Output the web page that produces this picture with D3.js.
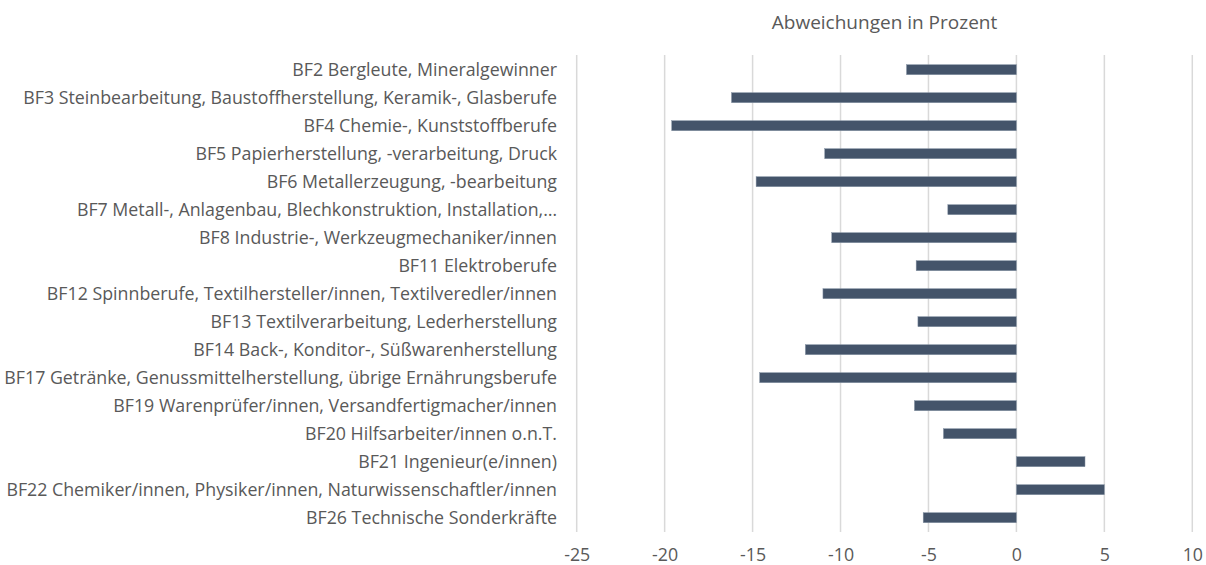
<!DOCTYPE html>
<html>
<head>
<meta charset="utf-8">
<script src="https://cdn.jsdelivr.net/npm/d3@7"></script>
<style>
  body { margin: 0; background: #fff; }
  text { font-family: "Open Sans", sans-serif; }
</style>
</head>
<body>
<div id="chart"></div>
<script>
// Berufsfelder (categories), top to bottom
const categories = [
  'BF2 Bergleute, Mineralgewinner',
  'BF3 Steinbearbeitung, Baustoffherstellung, Keramik-, Glasberufe',
  'BF4 Chemie-, Kunststoffberufe',
  'BF5 Papierherstellung, -verarbeitung, Druck',
  'BF6 Metallerzeugung, -bearbeitung',
  'BF7 Metall-, Anlagenbau, Blechkonstruktion, Installation,…',
  'BF8 Industrie-, Werkzeugmechaniker/innen',
  'BF11 Elektroberufe',
  'BF12 Spinnberufe, Textilhersteller/innen, Textilveredler/innen',
  'BF13 Textilverarbeitung, Lederherstellung',
  'BF14 Back-, Konditor-, Süßwarenherstellung',
  'BF17 Getränke, Genussmittelherstellung, übrige Ernährungsberufe',
  'BF19 Warenprüfer/innen, Versandfertigmacher/innen',
  'BF20 Hilfsarbeiter/innen o.n.T.',
  'BF21 Ingenieur(e/innen)',
  'BF22 Chemiker/innen, Physiker/innen, Naturwissenschaftler/innen',
  'BF26 Technische Sonderkräfte'
];

// Abweichungen in Prozent
const values = [-6.25, -16.2, -19.6, -10.9, -14.8, -3.9, -10.5, -5.7, -11.0,
  -5.6, -12.0, -14.6, -5.8, -4.15, 3.9, 5.0, -5.3];

const xTicks = [-25, -20, -15, -10, -5, 0, 5, 10];
const axisTitle = 'Abweichungen in Prozent';

const W = 1206, H = 565;
const svg = d3.select('#chart').append('svg')
  .attr('width', W)
  .attr('height', H);

// Scales
const x = d3.scaleLinear()
  .domain([-25, 10])
  .range([576.7, 1192.3]);

const y = d3.scaleBand()
  .domain(categories)
  .range([55.7, 531.7])
  .paddingInner(0.64)
  .paddingOuter(0.32);

// Grid
svg.append('g')
  .selectAll('line')
  .data(xTicks)
  .join('line')
  .attr('x1', d => x(d))
  .attr('x2', d => x(d))
  .attr('y1', 55)
  .attr('y2', 532)
  .attr('stroke', '#d9d9d9')
  .attr('stroke-width', 1.5);

// Bars
svg.append('g')
  .selectAll('rect')
  .data(values)
  .join('rect')
  .attr('x', d => x(Math.min(0, d)))
  .attr('y', (d, i) => y(categories[i]))
  .attr('width', d => Math.abs(x(d) - x(0)))
  .attr('height', y.bandwidth())
  .attr('fill', '#44546a')
  .attr('stroke', '#8a97a8')
  .attr('stroke-width', 0.5);

// Category labels
svg.append('g')
  .selectAll('text')
  .data(categories)
  .join('text')
  .attr('x', 557)
  .attr('y', d => y(d) + y.bandwidth() / 2)
  .attr('dy', '0.35em')
  .attr('text-anchor', 'end')
  .attr('font-size', 17.8)
  .attr('fill', '#595959')
  .text(d => d);

// X axis labels
const xAxis = svg.append('g')
  .attr('transform', 'translate(0,548)')
  .call(d3.axisBottom(x).tickValues(xTicks).tickSize(0).tickPadding(0)
    .tickFormat(d => String(d)));
xAxis.select('.domain').remove();
xAxis.selectAll('text')
  .attr('font-size', 17.8)
  .attr('fill', '#595959')
  .attr('font-family', '"Open Sans", sans-serif');

// Axis title
svg.append('text')
  .attr('x', (x.range()[0] + x.range()[1]) / 2)
  .attr('y', 22)
  .attr('dy', '0.35em')
  .attr('text-anchor', 'middle')
  .attr('font-size', 19)
  .attr('fill', '#595959')
  .text(axisTitle);
</script>
</body>
</html>
